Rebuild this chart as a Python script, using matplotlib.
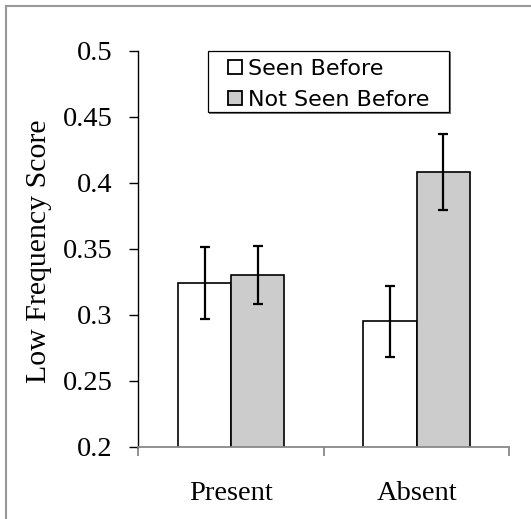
import numpy as np
import matplotlib
matplotlib.use('Agg')
import matplotlib.pyplot as plt
from matplotlib.patches import Rectangle
from matplotlib.lines import Line2D

# data
categories = ['Present', 'Absent']
series = ['Seen Before', 'Not Seen Before']
seen = [0.324, 0.295]
not_seen = [0.330, 0.408]
seen_err = [0.0275, 0.027]
not_seen_err = [0.022, 0.029]
yticks = [0.2, 0.25, 0.3, 0.35, 0.4, 0.45, 0.5]
ytick_labels = ['0.2', '0.25', '0.3', '0.35', '0.4', '0.45', '0.5']

fig = plt.figure(figsize=(5.31, 5.19), dpi=100)
ax = fig.add_axes([0.2608, 0.1393, 0.6983, 0.763])

x = np.arange(len(categories))
w = 0.2875
err_kw = dict(ecolor='black', elinewidth=1.6, capsize=3.6, capthick=1.6)
b1 = ax.bar(x - w/2, seen, w, yerr=seen_err, color='white', edgecolor='black',
            linewidth=1.2, error_kw=err_kw, label=series[0])
b2 = ax.bar(x + w/2, not_seen, w, yerr=not_seen_err, color='#cccccc', edgecolor='black',
            linewidth=1.2, error_kw=err_kw, label=series[1])

ax.set_xlim(-0.5, 1.5)
ax.set_ylim(0.2, 0.5)
ax.set_yticks(yticks)
ax.set_yticklabels(ytick_labels)
ax.set_xticks(x)
ax.set_xticklabels(categories)
ax.set_xticks([-0.5, 0.5, 1.5], minor=True)

serif = 'Liberation Serif'
for lab in ax.get_yticklabels() + ax.get_xticklabels():
    lab.set_fontfamily(serif)
    lab.set_fontsize(20.5)

ax.tick_params(axis='y', direction='out', length=6.5, width=1, color='black', pad=12)
ax.tick_params(axis='x', which='major', length=0, pad=25)
ax.tick_params(axis='x', which='minor', direction='out', length=6.5, width=1.3, color='#888888')

ax.spines['top'].set_visible(False)
ax.spines['right'].set_visible(False)
ax.spines['left'].set_color('black')
ax.spines['left'].set_linewidth(1)
ax.spines['bottom'].set_color('#888888')
ax.spines['bottom'].set_linewidth(1.3)

ax.set_ylabel('Low Frequency Score', fontfamily=serif, fontsize=21.5)
ax.yaxis.set_label_coords(-0.233, 0.494)

# legend (frame drawn separately for tight vertical padding)
leg = ax.legend(loc='center', bbox_to_anchor=(328.5/531, 1 - 84.2/519),
                bbox_transform=fig.transFigure, frameon=False,
                prop={'family': 'DejaVu Sans', 'size': 16},
                handlelength=0.62, handleheight=0.6, handletextpad=0.28,
                labelspacing=0.5, borderpad=0.1)
for h in leg.legend_handles:
    h.set_linewidth(1.3)

bx0, bx1 = 207.7/531, 449.3/531
by0, by1 = 1 - 112.3/519, 1 - 50.7/519
fig.patches.append(Rectangle((bx0 + 1.5/531, by0 - 1.5/519), bx1 - bx0, by1 - by0,
                             transform=fig.transFigure, facecolor='#777777',
                             edgecolor='none', zorder=2))
fig.patches.append(Rectangle((bx0, by0), bx1 - bx0, by1 - by0,
                             transform=fig.transFigure, facecolor='white',
                             edgecolor='black', linewidth=0.9, zorder=3))
leg.set_zorder(10)
ax.set_zorder(5)
ax.patch.set_alpha(0)

# outer screenshot frame (top and left edges)
fig.lines.append(Line2D([5.5/531, 1], [1 - 6/519, 1 - 6/519], transform=fig.transFigure,
                        color='#999999', linewidth=1.5))
fig.lines.append(Line2D([5.5/531, 5.5/531], [0, 1 - 6/519], transform=fig.transFigure,
                        color='#999999', linewidth=1.5))

fig.savefig('out.png', dpi=100)
